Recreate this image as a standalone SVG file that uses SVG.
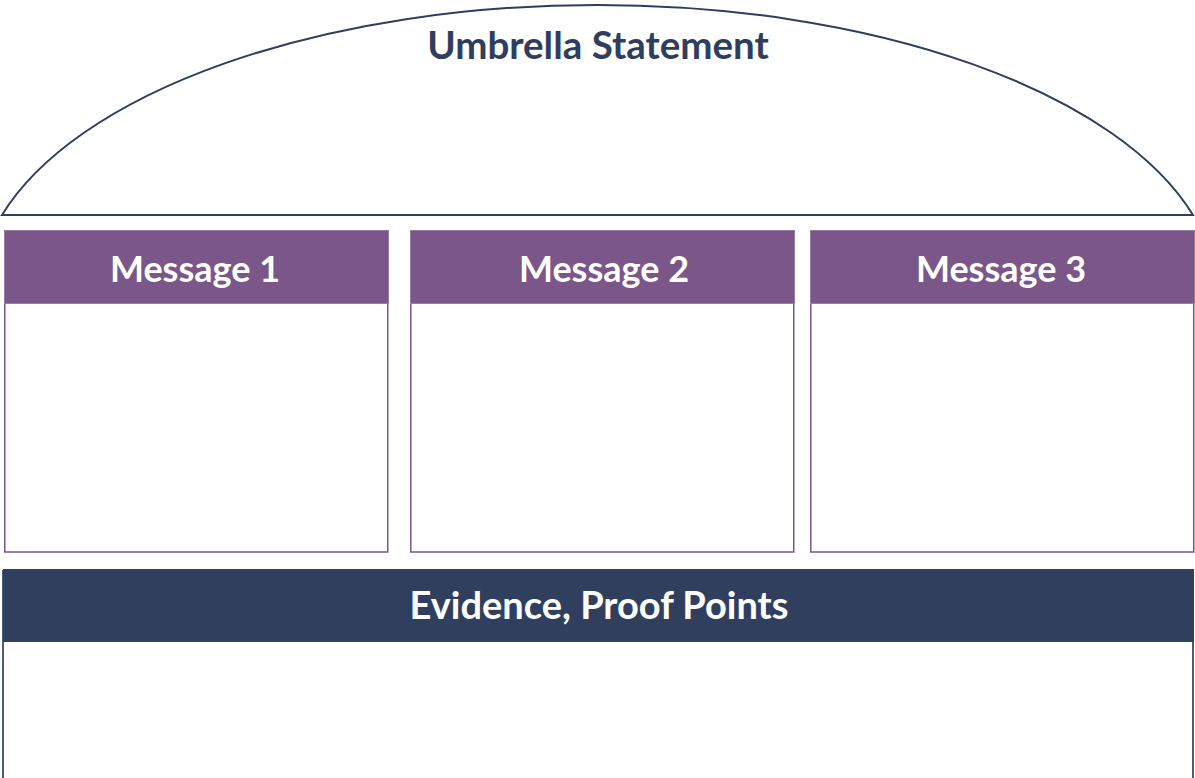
<svg xmlns="http://www.w3.org/2000/svg" width="1195" height="778" viewBox="0 0 1195 778">
  <style>
    .lbl { font-family: Lato, "Source Sans Pro", "Liberation Sans", sans-serif; font-weight: bold; text-anchor: middle; }
    .white { fill: #ffffff; }
    .navyText { fill: #2f3e5e; }
    .msgHead { fill: #7b5689; stroke: #9a7ba6; stroke-width: 1; }
    .msgBody { fill: #ffffff; stroke: #7b5689; stroke-width: 1.5; }
    .evHead { fill: #313f5f; }
    .evSide { stroke: #4a5a7a; stroke-width: 2; fill: none; }
  </style>
  <rect x="0" y="0" width="1195" height="778" fill="#ffffff"/>
  <g id="umbrella">
    <path d="M 2 215 A 619.5 290 0 0 1 1193 215 Z" fill="#ffffff" stroke="#2f3e5e" stroke-width="2" stroke-linejoin="miter"/>
    <text class="lbl navyText" x="598" y="59" font-size="38.5">Umbrella Statement</text>
  </g>
  <g id="message1">
    <rect class="msgBody" x="4.75" y="231" width="383" height="321"/>
    <rect class="msgHead" x="4.5" y="230.5" width="384" height="73"/>
    <text class="lbl white" x="195" y="282" font-size="36">Message 1</text>
  </g>
  <g id="message2">
    <rect class="msgBody" x="410.75" y="231" width="383" height="321"/>
    <rect class="msgHead" x="410.5" y="230.5" width="384" height="73"/>
    <text class="lbl white" x="604" y="282" font-size="36">Message 2</text>
  </g>
  <g id="message3">
    <rect class="msgBody" x="810.75" y="231" width="383" height="321"/>
    <rect class="msgHead" x="810.5" y="230.5" width="384" height="73"/>
    <text class="lbl white" x="1001" y="282" font-size="36">Message 3</text>
  </g>
  <g id="evidence">
    <line class="evSide" x1="3" y1="570" x2="3" y2="778"/>
    <line class="evSide" x1="1193" y1="570" x2="1193" y2="778"/>
    <rect class="evHead" x="3" y="569" width="1191" height="73"/>
    <text class="lbl white" x="599" y="619" font-size="38">Evidence, Proof Points</text>
  </g>
  <g id="connectors"/>
</svg>
